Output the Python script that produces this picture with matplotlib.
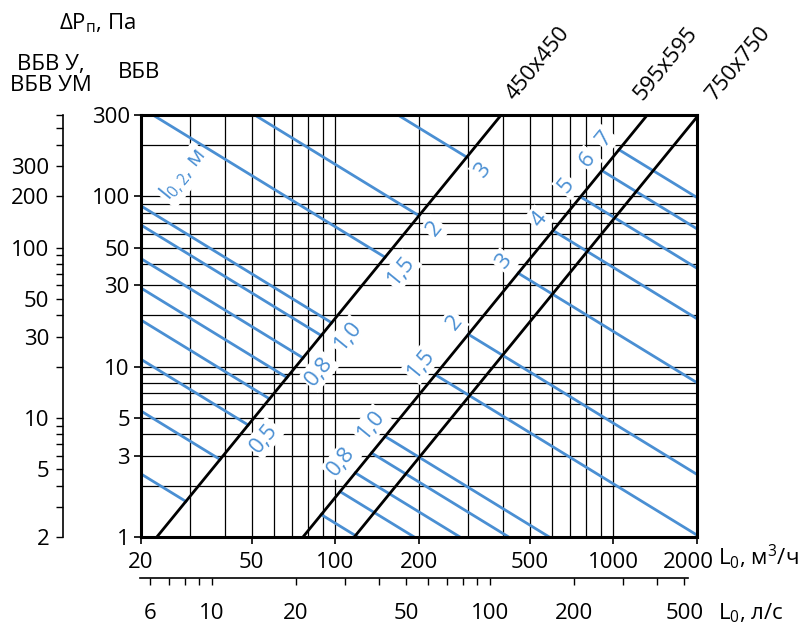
import numpy as np
import matplotlib.pyplot as plt
from matplotlib.ticker import FixedLocator, FixedFormatter, NullLocator, NullFormatter
from matplotlib.transforms import ScaledTranslation

plt.rcParams['font.family'] = ['Open Sans', 'DejaVu Sans']
plt.rcParams['mathtext.fontset'] = 'custom'
plt.rcParams['mathtext.rm'] = 'Open Sans'
plt.rcParams['mathtext.it'] = 'Open Sans:italic'

# axis scales, m3/h and Pa
x_ticks = [20, 50, 100, 200, 500, 1000, 2000]
y_ticks = [1, 3, 5, 10, 30, 50, 100, 300]
x_grid = [30, 40, 50, 60, 70, 80, 90, 100, 200, 300, 400, 500, 600, 700, 800, 900, 1000]
y_grid = [2, 3, 4, 5, 6, 7, 8, 9, 10, 20, 30, 40, 50, 60, 70, 80, 90, 100, 200]

# second scales: l/s on the bottom, VBV U / VBV UM on the left
ls_ticks = [6, 10, 20, 50, 100, 200, 500]
ls_minor = [7, 8, 9, 30, 40, 60, 70, 80, 90, 300, 400]
u_ticks = [2, 5, 10, 30, 50, 100, 200, 300]
u_minor = [3, 4, 6, 7, 8, 9, 20, 40, 60, 70, 80, 90, 400, 500, 600]

# grille sizes: flow (m3/h) at which the loss is 1 Pa, dP ~ L^2
sizes = ['450x450', '595x595', '750x750']
flow_1pa = [22.8, 76.5, 117.0]
size_label_x = [414, 1200, 2190]

# throw l0,2 lines: flow where the line meets its size line
flow_450 = [29, 38.5, 48.6, 58, 67, 76.5, 89, 97, 151, 200, 297]
labels_450 = ['', '', '0,5', '', '', '0,8', '', '1,0', '1,5', '2', '3']
flow_595 = [89, 104, 118, 135, 151, 229, 301, 455, 607, 762, 910, 1048]
labels_595 = ['', '', '0,8', '', '1,0', '1,5', '2', '3', '4', '5', '6', '7']

blue = '#4a8fd3'
fs = 16
W, H = 807, 630


def box(x0, y0, x1, y1):
    return [x0 / W, 1 - y1 / H, (x1 - x0) / W, (y1 - y0) / H]


fig = plt.figure(figsize=(W / 100, H / 100), dpi=100)
ax = fig.add_axes(box(141, 115, 697, 537))
ax.set_xscale('log')
ax.set_yscale('log')
ax.set_xlim(20, 2000)
ax.set_ylim(1, 300)

for v in x_grid:
    ax.axvline(v, color='k', lw=0.9, zorder=1)
for v in y_grid:
    ax.axhline(v, color='k', lw=0.9, zorder=1)

# angle of the size lines on screen
p1 = ax.transData.transform((100, 1))
p2 = ax.transData.transform((1000, 100))
ang = np.degrees(np.arctan2(p2[1] - p1[1], p2[0] - p1[0]))
nx_, ny_ = np.sin(np.radians(ang)), -np.cos(np.radians(ang))

L = np.logspace(np.log10(10), np.log10(3000), 60)
for a in flow_1pa:
    ax.plot(L, (L / a) ** 2, color='k', lw=2.0, zorder=3)

lab_kw = dict(color=blue, fontsize=fs, ha='center', va='center', rotation=ang,
              textcoords='offset points', zorder=5,
              bbox=dict(boxstyle='square,pad=0.1', fc='white', ec='none'))

a = flow_1pa[0]
for L0, lab in zip(flow_450, labels_450):
    d0 = (L0 / a) ** 2
    Ls = np.array([10, L0])
    ax.plot(Ls, d0 * L0 / Ls, color=blue, lw=2.0, zorder=2)
    if lab:
        off = 15
        ax.annotate(lab, (L0, d0), xytext=(nx_ * off, ny_ * off), **lab_kw)

a = flow_1pa[1]
for L0, lab in zip(flow_595, labels_595):
    d0 = (L0 / a) ** 2
    Ls = np.array([L0, 5000])
    ax.plot(Ls, d0 * L0 / Ls, color=blue, lw=2.0, zorder=2)
    if lab:
        off = 13
        ax.annotate(lab, (L0, d0), xytext=(-nx_ * off, -ny_ * off), **lab_kw)

for name, xl in zip(sizes, size_label_x):
    ax.annotate(name, (xl, 1.0), xycoords=('data', 'axes fraction'),
                xytext=(8, 8), textcoords='offset points', fontsize=fs,
                rotation=ang, rotation_mode='anchor', ha='left', va='bottom',
                annotation_clip=False)

fig.text(184 / W, 1 - 175 / H, r'l$_\mathrm{0,2}$, м', color=blue, fontsize=fs,
         rotation=ang, ha='center', va='center', zorder=5,
         bbox=dict(boxstyle='square,pad=0.1', fc='white', ec='none'))

for s in ax.spines.values():
    s.set_linewidth(2.2)
ax.xaxis.set_major_locator(FixedLocator(x_ticks))
ax.xaxis.set_major_formatter(FixedFormatter([str(v) for v in x_ticks]))
ax.yaxis.set_major_locator(FixedLocator(y_ticks))
ax.yaxis.set_major_formatter(FixedFormatter([str(v) for v in y_ticks]))
ax.xaxis.set_minor_locator(NullLocator())
ax.yaxis.set_minor_locator(NullLocator())
ax.tick_params(direction='out', length=5, width=1.2, labelsize=fs)
ax.tick_params(axis='x', pad=6)
ax.tick_params(axis='y', pad=3)

# l/s scale under the main axis
sx = ax.secondary_xaxis(-0.097, functions=(lambda x: x / 3.6, lambda x: x * 3.6))
sx.xaxis.set_major_locator(FixedLocator(ls_ticks))
sx.xaxis.set_major_formatter(FixedFormatter([str(v) for v in ls_ticks]))
sx.xaxis.set_minor_locator(FixedLocator(ls_minor))
sx.xaxis.set_minor_formatter(NullFormatter())
sx.tick_params(which='both', direction='out', length=5, width=1.0, labelsize=fs, pad=13)
sx.spines['bottom'].set_linewidth(1.2)
sx.spines['bottom'].set_bounds(5.5, 517)

# VBV U / VBV UM scale on the left
sy = ax.secondary_yaxis(-0.14, functions=(lambda y: 2 * y, lambda y: y / 2))
sy.yaxis.set_major_locator(FixedLocator(u_ticks))
sy.yaxis.set_major_formatter(FixedFormatter([str(v) for v in u_ticks]))
sy.yaxis.set_minor_locator(FixedLocator(u_minor))
sy.yaxis.set_minor_formatter(NullFormatter())
sy.tick_params(which='both', direction='out', length=5, width=1.0, labelsize=fs, pad=5)
sy.spines['left'].set_linewidth(1.2)

fig.text(97 / W, 1 - 23 / H, r'ΔP$_\mathrm{п}$, Па', fontsize=fs, ha='center', va='center')
fig.text(51 / W, 1 - 75 / H, 'ВБВ У,\nВБВ УМ', fontsize=fs, ha='center', va='center',
         linespacing=1.0)
fig.text(139 / W, 1 - 73 / H, 'ВБВ', fontsize=fs, ha='center', va='center')
fig.text(718 / W, 1 - 557 / H, r'L$_0$, м$^3$/ч', fontsize=fs, ha='left', va='center')
fig.text(718 / W, 1 - 613 / H, r'L$_0$, л/с', fontsize=fs, ha='left', va='center')

# nudge the last bottom label left so it clears the unit text
fig.canvas.draw()
last = ax.xaxis.get_major_ticks()[-1].label1
last.set_transform(last.get_transform() + ScaledTranslation(-6 / 72, 0, fig.dpi_scale_trans))

fig.savefig('out.png', dpi=100)
